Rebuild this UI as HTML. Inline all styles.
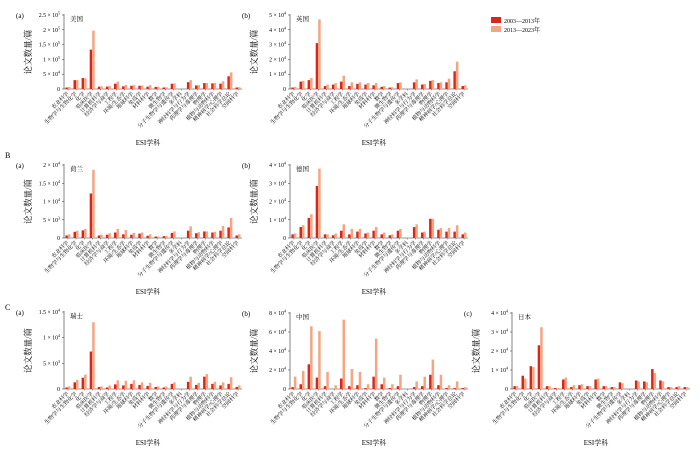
<!DOCTYPE html>
<html><head><meta charset="utf-8"><style>
html,body{margin:0;padding:0;background:#fff;}
svg{display:block;font-family:"Liberation Serif","Noto Serif CJK SC","Noto Sans CJK SC",serif;}
</style></head><body>
<svg id="s" width="700" height="453" viewBox="0 0 700 453" xmlns="http://www.w3.org/2000/svg">
<text x="5" y="158" font-size="8">B</text>
<text x="5" y="310" font-size="8">C</text>
<rect x="491" y="17" width="10" height="6" fill="#d9261c"/>
<text x="504" y="23" font-size="6">2003—2013年</text>
<rect x="491" y="26" width="10" height="6" fill="#f4a582"/>
<text x="504" y="32" font-size="6">2013—2023年</text>
</svg>
<script>
var cats=["农业科学","生物学与生物化学","化学","临床医学","计算机科学","经济学与商学","工程学","环境/生态学","地球科学","免疫学","材料科学","数学","微生物学","分子生物学与遗传学","多学科","神经科学与行为学","药理学与毒理学","物理学","植物与动物科学","精神病学/心理学","社会科学总论","空间科学"];
var P=[
{ax:64,base:89,top:15,lab:"(a)",name:"美国",max:25,ticks:[[0,"0"],[5,"5 × 10","4"],[10,"1 × 10","5"],[15,"1.5 × 10","5"],[20,"2 × 10","5"],[25,"2.5 × 10","5"]],
d:[[0.5,0.7],[3,3],[3.7,3.6],[13.3,19.7],[0.8,0.9],[0.8,1],[1.8,2.5],[0.9,1.4],[1.1,1.3],[1.1,1.2],[0.8,1.3],[0.7,0.8],[0.5,0.6],[1.8,1.9],[0,0],[2.3,3],[1.2,1.3],[2,2],[1.9,2.1],[1.8,2.6],[4.3,5.6],[0.5,0.6]]},
{ax:290,base:89,top:15,lab:"(b)",name:"英国",max:5,ticks:[[0,"0"],[1,"1 × 10","4"],[2,"2 × 10","4"],[3,"3 × 10","4"],[4,"4 × 10","4"],[5,"5 × 10","4"]],
d:[[0.1,0.15],[0.5,0.55],[0.6,0.75],[3.1,4.7],[0.2,0.3],[0.3,0.4],[0.5,0.9],[0.2,0.45],[0.35,0.45],[0.3,0.4],[0.25,0.4],[0.15,0.2],[0.1,0.12],[0.4,0.45],[0,0],[0.45,0.65],[0.3,0.35],[0.55,0.6],[0.4,0.45],[0.45,0.7],[1.2,1.85],[0.2,0.25]]},
{ax:64,base:238,top:165,lab:"(a)",name:"荷兰",max:20,ticks:[[0,"0"],[5,"5 × 10","3"],[10,"1 × 10","4"],[15,"1.5 × 10","4"],[20,"2 × 10","4"]],
d:[[0.7,1],[1.7,2],[2.1,2.5],[12.2,18.7],[0.7,0.9],[0.9,1.3],[1.5,2.5],[1,2.2],[0.9,1.4],[1.2,1.5],[0.6,1],[0.4,0.4],[0.5,0.6],[1.4,1.8],[0,0],[2,3.2],[1.3,1.6],[1.8,1.8],[1.5,1.7],[2,3.3],[2.9,5.5],[0.7,1]]},
{ax:290,base:238,top:165,lab:"(b)",name:"德国",max:4,ticks:[[0,"0"],[1,"1 × 10","4"],[2,"2 × 10","4"],[3,"3 × 10","4"],[4,"4 × 10","4"]],
d:[[0.2,0.25],[0.6,0.7],[1.1,1.3],[2.85,3.8],[0.2,0.2],[0.15,0.25],[0.4,0.75],[0.2,0.5],[0.35,0.5],[0.25,0.3],[0.4,0.6],[0.2,0.3],[0.15,0.2],[0.4,0.5],[0,0],[0.6,0.75],[0.3,0.35],[1.05,1.05],[0.45,0.55],[0.35,0.55],[0.35,0.7],[0.2,0.3]]},
{ax:64,base:389,top:312,lab:"(a)",name:"瑞士",max:15,ticks:[[0,"0"],[5,"5 × 10","3"],[10,"1 × 10","4"],[15,"1.5 × 10","4"]],
d:[[0.3,0.5],[1.3,1.8],[2.2,2.8],[7.3,13],[0.4,0.5],[0.3,0.7],[0.9,1.7],[0.7,1.6],[1,1.7],[0.8,1.3],[0.6,1.2],[0.4,0.5],[0.3,0.5],[1,1.3],[0,0],[1.4,2.4],[0.8,1.2],[2.4,2.9],[1,1.4],[0.7,1.3],[1,2.3],[0.4,0.7]]},
{ax:290,base:389,top:313,lab:"(b)",name:"中国",max:8,ticks:[[0,"0"],[2,"2 × 10","4"],[4,"4 × 10","4"],[6,"6 × 10","4"],[8,"8 × 10","4"]],
d:[[0.2,1.3],[0.5,1.9],[2.6,6.6],[1.2,6.1],[0.3,1.8],[0,0.4],[1.1,7.3],[0.3,2.1],[0.4,1.8],[0.1,0.5],[1.3,5.3],[0.5,1.2],[0.1,0.5],[0.3,1.5],[0,0],[0.2,0.8],[0.3,1.3],[1.5,3.1],[0.4,1.5],[0.1,0.4],[0.1,0.8],[0.1,0.2]]},
{ax:512,base:389,top:313,lab:"(c)",name:"日本",max:4,ticks:[[0,"0"],[1,"1 × 10","4"],[2,"2 × 10","4"],[3,"3 × 10","4"],[4,"4 × 10","4"]],
d:[[0.15,0.15],[0.7,0.55],[1.2,1.15],[2.3,3.25],[0.15,0.15],[0.05,0.05],[0.5,0.6],[0.1,0.2],[0.2,0.25],[0.15,0.15],[0.5,0.55],[0.15,0.15],[0.1,0.1],[0.35,0.3],[0,0],[0.45,0.4],[0.4,0.35],[1.05,0.85],[0.45,0.4],[0.1,0.1],[0.1,0.15],[0.1,0.1]]}
];
var h="";
P.forEach(function(p){
 var H=p.base-p.top, ax=p.ax, b=p.base;
 h+='<text x="'+(ax-48)+'" y="'+(p.top+3)+'" font-size="7">'+p.lab+'</text>';
 h+='<text x="'+(ax+6)+'" y="'+(p.top+6)+'" font-size="6.5">'+p.name+'</text>';
 h+='<line x1="'+ax+'" y1="'+(p.top-1)+'" x2="'+ax+'" y2="'+b+'" stroke="#333" stroke-width="0.6"/>';
 h+='<line x1="'+ax+'" y1="'+b+'" x2="'+(ax+178)+'" y2="'+b+'" stroke="#333" stroke-width="0.6"/>';
 p.ticks.forEach(function(t){
  var y=b-t[0]/p.max*H;
  h+='<line x1="'+(ax-2)+'" y1="'+y+'" x2="'+ax+'" y2="'+y+'" stroke="#333" stroke-width="0.5"/>';
  if(t.length>2) h+='<text x="'+(ax-4)+'" y="'+(y+2)+'" font-size="5.8" text-anchor="end">'+t[1]+'<tspan dy="-2.5" font-size="4">'+t[2]+'</tspan></text>';
  else h+='<text x="'+(ax-4)+'" y="'+(y+2)+'" font-size="5.8" text-anchor="end">'+t[1]+'</text>';
 });
 var yc=(p.top+b)/2;
 h+='<text x="'+(ax-33)+'" y="'+yc+'" font-size="8.5" text-anchor="middle" transform="rotate(-90 '+(ax-33)+' '+yc+')">论文数量/篇</text>';
 p.d.forEach(function(v,i){
  var c=ax+4+i*8.1;
  var h1=v[0]/p.max*H,h2=v[1]/p.max*H;
  h+='<rect x="'+(c-2.6)+'" y="'+(b-h1)+'" width="2.5" height="'+h1+'" fill="#d9261c"/>';
  h+='<rect x="'+(c-0.1)+'" y="'+(b-h2)+'" width="2.5" height="'+h2+'" fill="#f4a582"/>';
  h+='<line x1="'+c+'" y1="'+b+'" x2="'+c+'" y2="'+(b+1.5)+'" stroke="#333" stroke-width="0.4"/>';
  h+='<text x="'+(c+1)+'" y="'+(b+5)+'" font-size="5.4" text-anchor="end" transform="rotate(-45 '+(c+1)+' '+(b+5)+')">'+cats[i]+'</text>';
 });
 h+='<text x="'+(ax+84)+'" y="'+(b+56)+'" font-size="7" text-anchor="middle">ESI学科</text>';
});
document.getElementById("s").insertAdjacentHTML("beforeend",h);
</script>
</body></html>
